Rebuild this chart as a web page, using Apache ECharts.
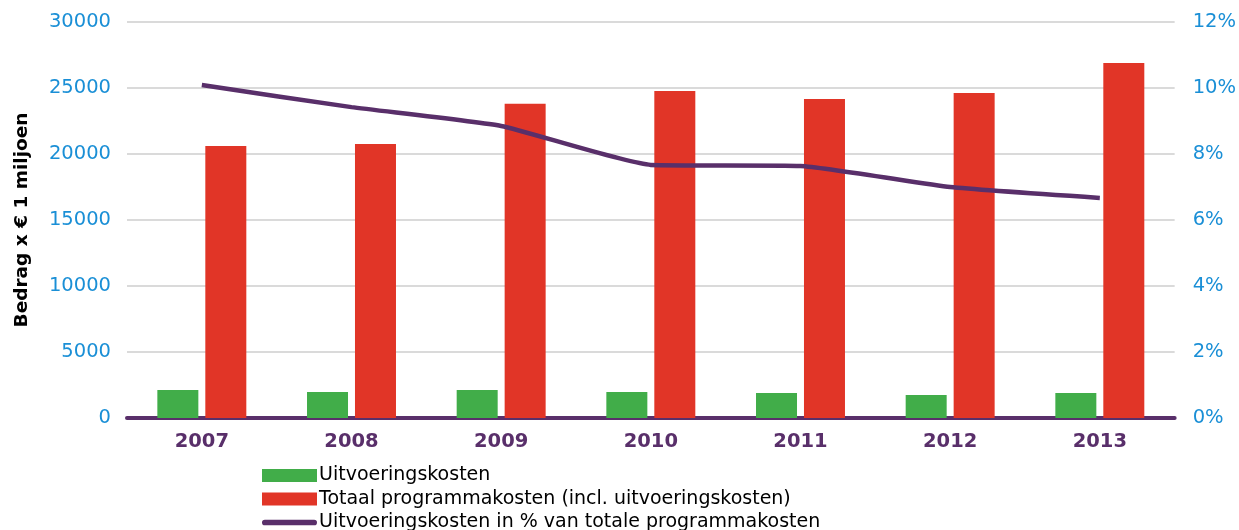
<!DOCTYPE html>
<html>
<head>
<meta charset="utf-8">
<style>
  html, body { margin: 0; padding: 0; background: #fff; }
  #chart { width: 1239px; height: 530px; }
</style>
<script src="https://cdn.jsdelivr.net/npm/echarts@6/dist/echarts.min.js"></script>
</head>
<body>
<div id="chart"></div>
<script>
// jaren en bedragen (x € 1 miljoen)
var years = ['2007', '2008', '2009', '2010', '2011', '2012', '2013']
var uitvoeringskosten = [2120, 1970, 2120, 1970, 1890, 1740, 1890]
var programmakosten = [20600, 20750, 23800, 24770, 24170, 24620, 26890]
var percentage = [10.09, 9.42, 8.85, 7.67, 7.64, 7.0, 6.67]

var names = [
  'Uitvoeringskosten',
  'Totaal programmakosten (incl. uitvoeringskosten)',
  'Uitvoeringskosten in % van totale programmakosten'
]
var icons = [
  'rect',
  'rect',
  'path://M2.5,0 L45.5,0 A2.5,2.5 0 0 1 45.5,5 L2.5,5 A2.5,2.5 0 0 1 2.5,0 Z'
]

var purple = '#592f6a'
var blue = '#1a8fd6'
var font = 'DejaVu Sans'

// one legend per row, so the last row is simply cut off by the bottom edge
function legendRow(i) {
  return {
    orient: 'vertical',
    left: 262,
    top: 466 + i * 23.5,
    itemWidth: 55,
    itemHeight: 13,
    padding: 0,
    textStyle: {
      fontFamily: font,
      fontSize: 19,
      color: '#000',
      padding: [0, 0, 0, -3]
    },
    data: [{ name: names[i], icon: icons[i] }]
  }
}

var chart = echarts.init(document.getElementById('chart'))
chart.setOption({
  backgroundColor: '#fff',
  animation: false,
  grid: {
    left: 127,
    right: 64,
    top: 22,
    bottom: 112
  },
  legend: [legendRow(0), legendRow(1), legendRow(2)],
  xAxis: {
    type: 'category',
    data: years,
    axisTick: { show: false },
    axisLine: {
      lineStyle: { color: purple, width: 4 }
    },
    axisLabel: {
      color: purple,
      fontFamily: font,
      fontWeight: 'bold',
      fontSize: 19.5,
      margin: 14
    }
  },
  yAxis: [
    {
      type: 'value',
      min: 0,
      max: 30000,
      interval: 5000,
      name: 'Bedrag x € 1 miljoen',
      nameLocation: 'middle',
      nameGap: 95,
      nameTextStyle: {
        color: '#000',
        fontFamily: font,
        fontWeight: 'bold',
        fontSize: 18.5
      },
      axisLine: { show: false },
      axisTick: { show: false },
      axisLabel: {
        color: blue,
        fontFamily: font,
        fontSize: 19.5,
        margin: 16,
        formatter: function (v) { return String(v) }
      },
      splitLine: {
        lineStyle: { color: '#dadada', width: 2 }
      }
    },
    {
      type: 'value',
      min: 0,
      max: 12,
      interval: 2,
      axisLine: { show: false },
      axisTick: { show: false },
      axisLabel: {
        color: blue,
        fontFamily: font,
        fontSize: 19.5,
        margin: 18,
        formatter: '{value}%'
      },
      splitLine: { show: false }
    }
  ],
  series: [
    {
      name: names[0],
      type: 'bar',
      barWidth: 41,
      barGap: '17%',
      itemStyle: { color: '#41ad49' },
      data: uitvoeringskosten
    },
    {
      name: names[1],
      type: 'bar',
      barWidth: 41,
      itemStyle: { color: '#e13527' },
      data: programmakosten
    },
    {
      name: names[2],
      type: 'line',
      yAxisIndex: 1,
      smooth: 0.15,
      symbol: 'none',
      itemStyle: { color: purple },
      lineStyle: { color: purple, width: 4.5 },
      data: percentage,
      z: 5
    }
  ]
})
</script>
</body>
</html>
